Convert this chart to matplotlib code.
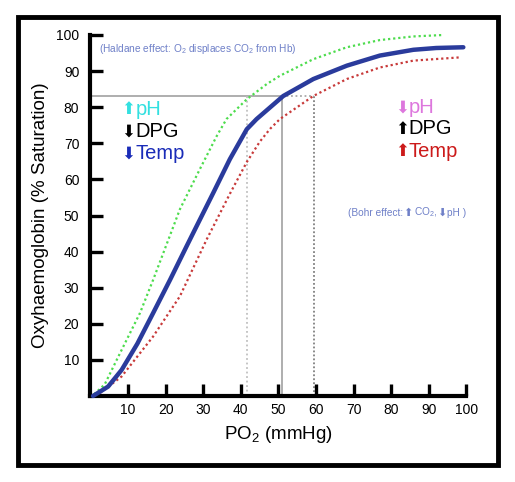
import matplotlib
matplotlib.use("Agg")
import matplotlib.pyplot as plt
from matplotlib.patches import Rectangle

plt.rcParams['font.family'] = ['Liberation Sans', 'DejaVu Sans']
plt.rcParams['mathtext.default'] = 'regular'

# Normal curve (blue, solid)
normal_x = [0.7, 4.7, 8.3, 12.5, 16.7, 21.2, 25.6, 27.8, 32.7, 37.1, 41.6, 44.2, 51.3,
            59.3, 68.2, 77, 85.9, 92, 99.2]
normal_y = [0, 2.6, 7.2, 14.5, 23, 32.2, 41.5, 46.1, 56.3, 65.6, 73.9, 76.7, 83.1,
            87.8, 91.5, 94.3, 95.9, 96.4, 96.6]

# Left-shifted curve (green, dotted)
left_x = [1, 3.8, 7.9, 13.2, 16.7, 21.0, 23.8, 29.1, 33.6, 36.2, 41.6, 46.9, 50.4,
          59.3, 68.2, 77, 85.9, 93.9]
left_y = [0.5, 3.2, 11.9, 23, 32.2, 44, 51.7, 62.8, 72, 76.7, 82.2, 86.4, 88.7,
          93.3, 96.6, 98.6, 99.6, 100]

# Right-shifted curve (red, dotted)
right_x = [1.5, 8.3, 16.7, 23.8, 30.9, 37.1, 41.6, 45.1, 47.8, 50.4, 59.3,
           68.2, 77, 85.9, 98.3]
right_y = [0, 5.4, 16.5, 27.6, 43.3, 56, 64.8, 70.5, 74, 76.7, 83.1,
           87.8, 91, 92.9, 93.8]

xticks = [10, 20, 30, 40, 50, 60, 70, 80, 90, 100]
yticks = [10, 20, 30, 40, 50, 60, 70, 80, 90, 100]

p50_sat = 83
p50_left, p50_norm, p50_right = 41.7, 51, 59.5

fig = plt.figure(figsize=(5.15, 4.82), dpi=100)
ax = fig.add_axes([0.1755, 0.1784, 0.730, 0.749])
ax.set_xlim(0, 100)
ax.set_ylim(0, 100)

# reference lines
ax.plot([0.5, p50_norm], [p50_sat, p50_sat], color='#a8a8a8', lw=1.3, zorder=1)
ax.plot([p50_norm, p50_right], [p50_sat, p50_sat], color='#a8a8a8', lw=1.3,
        linestyle=(0, (1, 1.5)), zorder=1)
ax.plot([p50_norm, p50_norm], [0, p50_sat], color='#a8a8a8', lw=1.3, zorder=1)
ax.plot([p50_left, p50_left], [0, p50_sat], color='#c0c0c0', lw=1.3,
        linestyle=(0, (1, 1.5)), zorder=1)
ax.plot([p50_right, p50_right], [0, p50_sat], color='#808080', lw=1.3,
        linestyle=(0, (1, 1.2)), zorder=1)

ax.plot(left_x, left_y, color='#4ddc4d', lw=1.6, linestyle=(0, (1, 1.3)), clip_on=False, zorder=2)
ax.plot(right_x, right_y, color='#c83a3a', lw=1.6, linestyle=(0, (1, 1.3)), clip_on=False, zorder=2)
ax.plot(normal_x, normal_y, color='#2a3b9c', lw=3.2, solid_capstyle='round',
        solid_joinstyle='round', clip_on=False, zorder=3)

for s in ['top', 'right']:
    ax.spines[s].set_visible(False)
for s in ['left', 'bottom']:
    ax.spines[s].set_linewidth(3)
    ax.spines[s].set_color('black')

ax.set_xticks(xticks)
ax.set_yticks(yticks)
ax.tick_params(direction='in', length=9, width=2.4, labelsize=10, color='black')
ax.tick_params(axis='x', pad=5)
ax.tick_params(axis='y', pad=8)
ax.yaxis.get_major_ticks()[2].tick1line.set_color('#1f6b58')

ax.set_xlabel('PO$_2$ (mmHg)', fontsize=13.5, labelpad=5)
ax.set_ylabel('Oxyhaemoglobin (% Saturation)', fontsize=13.5, labelpad=5)

note_col = '#6f80c8'
ax.text(2.3, 96, '(Haldane effect: O$_2$ displaces CO$_2$ from Hb)', color=note_col,
        fontsize=7.3, va='center', ha='left')


def chain(x, y, parts):
    """Draw text pieces one after another, each starting at the previous one's right edge."""
    prev = None
    for txt, col, size, fam, gap in parts:
        kw = dict(color=col, fontsize=size, va='center', ha='left')
        if fam:
            kw['family'] = fam
        if prev is None:
            prev = ax.text(x, y, txt, **kw)
        else:
            prev = ax.annotate(txt, xy=(1, 0.5), xycoords=prev, xytext=(gap, 0),
                               textcoords='offset points', **kw)


arrow_fam = ['DejaVu Sans']
chain(68.5, 50.8, [('(Bohr effect:', note_col, 7.3, None, 0),
                   ('⬆', note_col, 8, arrow_fam, 0),
                   ('CO$_2$,', note_col, 7.3, None, 1),
                   ('⬇', note_col, 8, arrow_fam, 0),
                   ('pH )', note_col, 7.3, None, 0)])

big = 14.5
groups = [
    (8.3, [(79.5, '⬆', 'pH', '#33e0e0'), (73.3, '⬇', 'DPG', 'black'), (67.2, '⬇', 'Temp', '#1a2cb8')]),
    (81.0, [(80.0, '⬇', 'pH', '#dd77dd'), (74.0, '⬆', 'DPG', 'black'), (67.8, '⬆', 'Temp', '#cc1a1a')]),
]
for gx, rows in groups:
    for gy, arrow, label, col in rows:
        chain(gx, gy, [(arrow, col, 12, arrow_fam, 0), (label, col, big, None, 0)])

# outer frame
fig.patches.append(Rectangle((18 / 515, 1 - 465 / 482), (498 - 18) / 515, (465 - 17) / 482,
                             transform=fig.transFigure, fill=False, edgecolor='black', lw=3.5))

fig.savefig('out.png', dpi=100)
